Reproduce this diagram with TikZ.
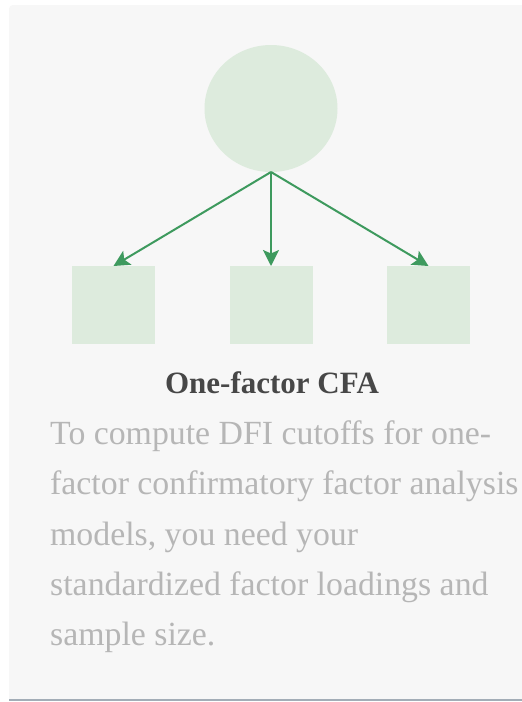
\documentclass[tikz,border=0pt]{standalone}
\usepackage{fontspec}
\setmainfont{Liberation Serif}
\usetikzlibrary{shapes.geometric,arrows.meta}
\definecolor{panelbg}{HTML}{F7F7F7}
\definecolor{lightgreen}{HTML}{DDEBDD}
\definecolor{arrowgreen}{HTML}{3E9A5E}
\definecolor{titlegray}{HTML}{474747}
\definecolor{bodygray}{HTML}{B6B6B6}
\definecolor{rulegray}{HTML}{A3ADB7}
\tikzset{
  factor/.style={ellipse, fill=lightgreen, draw=none, minimum width=133pt, minimum height=127pt, inner sep=0pt, outer sep=0pt},
  indicator/.style={rectangle, fill=lightgreen, draw=none, minimum width=83pt, minimum height=78pt, inner sep=0pt, outer sep=0pt},
  loading/.style={draw=arrowgreen, line width=2pt, -{Stealth[length=16pt, width=16pt, inset=3.5pt]}},
  titletext/.style={font=\fontsize{31}{36}\selectfont\bfseries, text=titlegray, inner sep=0pt},
  bodytext/.style={font=\fontsize{33.8}{50}\selectfont, text=bodygray, inner sep=0pt, anchor=base west}
}
\begin{document}
\begin{tikzpicture}[x=1pt,y=-1pt]
\useasboundingbox (0,0) rectangle (522,702);
\fill[white] (0,0) rectangle (522,702);
\fill[panelbg, rounded corners=4pt] (9,5) rectangle (530,698.5);
\fill[panelbg] (9,600) rectangle (530,698.5);
\fill[rulegray] (9,698.5) rectangle (522,700.5);
\node[factor] (f) at (271,108.5) {};
\node[indicator] (s1) at (113.5,305) {};
\node[indicator] (s2) at (271,305) {};
\node[indicator] (s3) at (428.5,305) {};
\draw[loading] (f.south) -- (s1.north);
\draw[loading] (f.south) -- (s2.north);
\draw[loading] (f.south) -- (s3.north);
\node[titletext, anchor=base] (title) at (272,393) {One-factor CFA};
\node[bodytext] (l1) at (50,444) {To compute DFI cutoffs for one-};
\node[bodytext] (l2) at (50,494.5) {factor confirmatory factor analysis};
\node[bodytext] (l3) at (50,545) {models, you need your};
\node[bodytext] (l4) at (50,595) {standardized factor loadings and};
\node[bodytext] (l5) at (50,645.5) {sample size.};
\end{tikzpicture}
\end{document}
